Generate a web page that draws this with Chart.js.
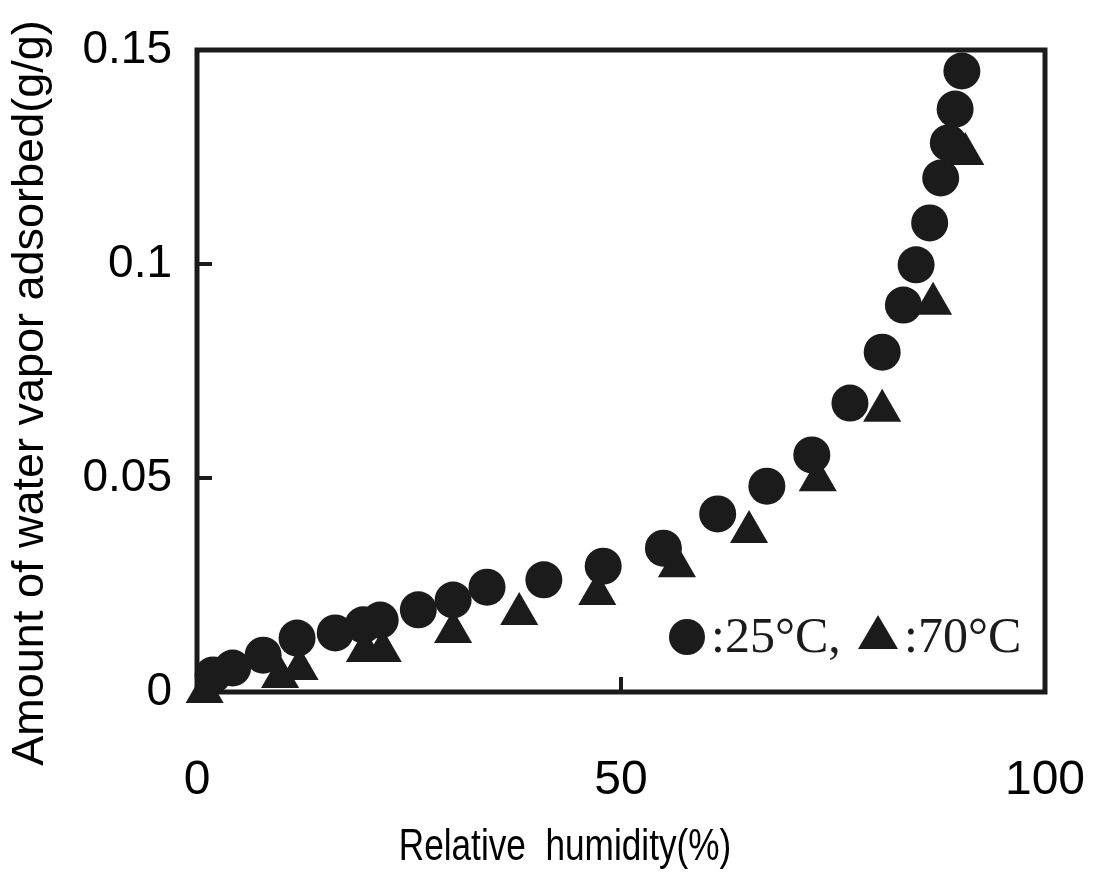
<!DOCTYPE html>
<html>
<head>
<meta charset="utf-8">
<script src="https://cdn.jsdelivr.net/npm/chart.js@4.4.1/dist/chart.umd.min.js"></script>
<style>
  html, body { margin: 0; padding: 0; background: #fff; }
  #wrap { width: 1111px; height: 875px; }
</style>
</head>
<body>
<div id="wrap"><canvas id="isotherm"></canvas></div>
<script>
// 25°C series (circles)
const humidity25 = [1.9, 4.2, 7.8, 11.8, 16.3, 19.6, 21.6, 26.1, 30.2, 34.2, 40.9, 47.9, 55.0,
    61.4, 67.2, 72.5, 77.0, 80.8, 83.3, 84.8, 86.4, 87.7, 88.6, 89.4, 90.2];
const water25 = [0.0040, 0.0056, 0.0086, 0.0126, 0.0138, 0.0157, 0.0168, 0.0192, 0.0215, 0.0245, 0.0262, 0.0294, 0.0336,
    0.0416, 0.0481, 0.0554, 0.0675, 0.0794, 0.0904, 0.0998, 0.1096, 0.1201, 0.1283, 0.1362, 0.1451];

// 70°C series (triangles)
const humidity70 = [0.9, 9.8, 12.1, 19.8, 21.9, 30.2, 38.0, 47.2, 56.6, 65.1, 73.2, 80.8, 86.8, 90.6];
const water70 = [0.0000, 0.0035, 0.0054, 0.0096, 0.0096, 0.0140, 0.0182, 0.0229, 0.0294, 0.0374, 0.0495, 0.0657, 0.0907, 0.1257];

const xTicks = [0, 50, 100];
const yTicks = [0, 0.05, 0.1, 0.15];

const xTitle = 'Relative  humidity(%)';
const yTitle = 'Amount of water vapor adsorbed(g/g)';

const ink = '#1b1b1b';
const sans = '"Liberation Sans", Arial, sans-serif';

function toPoints(xs, ys) {
    return xs.map((x, i) => ({ x: x, y: ys[i] }));
}

// frame and inward ticks go under the markers, titles and key on top
const framePlugin = {
    id: 'frame',
    beforeDatasetsDraw(chart) {
        const ctx = chart.ctx;
        const a = chart.chartArea;
        const xs = chart.scales.x;
        const ys = chart.scales.y;
        ctx.save();
        ctx.strokeStyle = ink;
        ctx.lineWidth = 5;
        ctx.strokeRect(a.left, a.top, a.right - a.left, a.bottom - a.top);

        ctx.lineWidth = 4;
        ctx.beginPath();
        xTicks.slice(1, -1).forEach(v => {
            const px = xs.getPixelForValue(v);
            ctx.moveTo(px, a.bottom);
            ctx.lineTo(px, a.bottom - 15);
        });
        yTicks.slice(1, -1).forEach(v => {
            const py = ys.getPixelForValue(v);
            ctx.moveTo(a.left, py);
            ctx.lineTo(a.left + 15, py);
        });
        ctx.stroke();
        ctx.restore();
    },
    afterDraw(chart) {
        const ctx = chart.ctx;
        const a = chart.chartArea;
        ctx.save();

        // axis titles (off-centre in the original, x title in a condensed face)
        ctx.fillStyle = '#000';
        ctx.textAlign = 'center';
        ctx.textBaseline = 'middle';
        ctx.save();
        ctx.translate(565, 848);
        ctx.scale(0.8, 1);
        ctx.font = '44px ' + sans;
        ctx.fillText(xTitle, 0, 0);
        ctx.restore();
        ctx.save();
        ctx.translate(31, 393);
        ctx.rotate(-Math.PI / 2);
        ctx.font = '45px ' + sans;
        ctx.fillText(yTitle, 0, 0);
        ctx.restore();

        // key: "● :25°C, ▲ :70°C"
        const kx = a.left + 490;
        const ky = a.bottom - 55;
        ctx.fillStyle = ink;
        ctx.beginPath();
        ctx.arc(kx, ky, 18, 0, Math.PI * 2);
        ctx.fill();
        ctx.font = '50px "Liberation Serif", "Times New Roman", serif';
        ctx.textAlign = 'left';
        ctx.fillText(':25°C,', kx + 24, ky + 2);
        const tx = kx + 191;
        ctx.beginPath();
        ctx.moveTo(tx, ky - 22);
        ctx.lineTo(tx + 20, ky + 12);
        ctx.lineTo(tx - 20, ky + 12);
        ctx.closePath();
        ctx.fill();
        ctx.fillText(':70°C', tx + 26, ky + 2);
        ctx.restore();
    }
};

new Chart(document.getElementById('isotherm'), {
    type: 'scatter',
    data: {
        datasets: [
            {
                label: '25°C',
                data: toPoints(humidity25, water25),
                pointStyle: 'circle',
                pointRadius: 18.5,
                pointHoverRadius: 18.5,
                backgroundColor: ink,
                borderColor: ink,
                borderWidth: 0,
                clip: false
            },
            {
                label: '70°C',
                data: toPoints(humidity70, water70),
                pointStyle: 'triangle',
                pointRadius: 22,
                pointHoverRadius: 22,
                backgroundColor: ink,
                borderColor: ink,
                borderWidth: 0,
                clip: false
            }
        ]
    },
    options: {
        responsive: true,
        maintainAspectRatio: false,
        animation: false,
        layout: { autoPadding: false, padding: { top: 50, right: 66, left: 0, bottom: 0 } },
        plugins: {
            legend: { display: false },
            tooltip: { enabled: false }
        },
        scales: {
            x: {
                type: 'linear',
                min: 0,
                max: 100,
                afterBuildTicks: s => { s.ticks = xTicks.map(v => ({ value: v })); },
                afterFit: s => {
                    s.height = 183;
                    s.paddingLeft = 0;
                    s.paddingRight = 0;
                },
                grid: { display: false },
                border: { display: false },
                ticks: {
                    color: '#000',
                    padding: 52,
                    maxRotation: 0,
                    font: { family: sans, size: 48 }
                }
            },
            y: {
                type: 'linear',
                min: 0,
                max: 0.15,
                afterBuildTicks: s => { s.ticks = yTicks.map(v => ({ value: v })); },
                afterFit: s => { s.width = 197; },
                grid: { display: false },
                border: { display: false },
                ticks: {
                    color: '#000',
                    padding: 17,
                    font: { family: sans, size: 46 },
                    callback: v => String(v)
                }
            }
        }
    },
    plugins: [framePlugin]
});
</script>
</body>
</html>
